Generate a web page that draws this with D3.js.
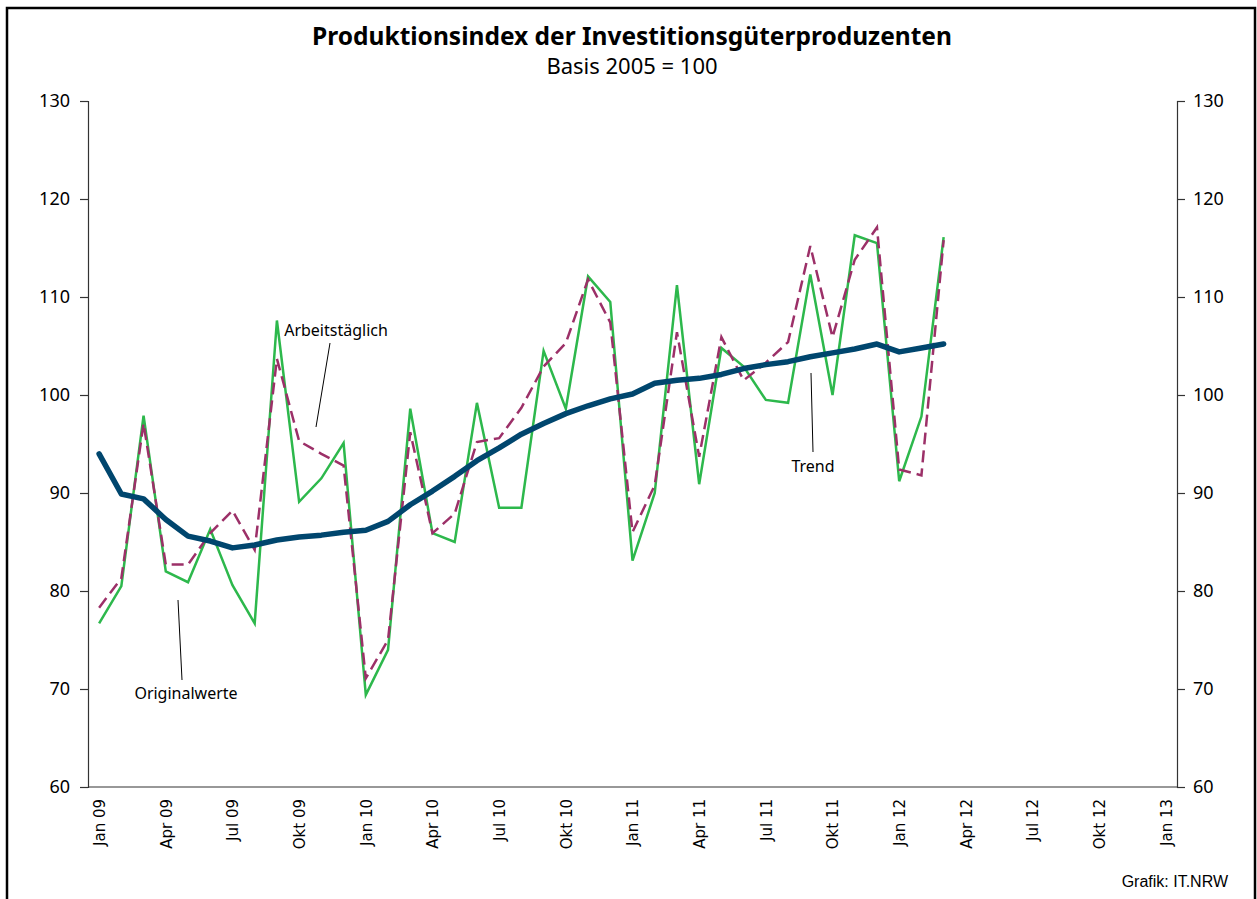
<!DOCTYPE html>
<html>
<head>
<meta charset="utf-8">
<script src="https://cdn.jsdelivr.net/npm/d3@7"></script>
<style>
  body { margin: 0; background: #fff; }
  text { font-family: "Noto Sans", "Open Sans", sans-serif; }
</style>
</head>
<body>
<script>
// month categories Jan 09 .. Jan 13
const monthNames = ["Jan", "Feb", "Mär", "Apr", "Mai", "Jun", "Jul", "Aug", "Sep", "Okt", "Nov", "Dez"];
const years = ["09", "10", "11", "12", "13"];
const months = [];
years.forEach(y => monthNames.forEach(m => months.push(m + " " + y)));
months.splice(49); // stop at Jan 13

const tickLabels = ["Jan 09", "Apr 09", "Jul 09", "Okt 09", "Jan 10", "Apr 10", "Jul 10", "Okt 10",
  "Jan 11", "Apr 11", "Jul 11", "Okt 11", "Jan 12", "Apr 12", "Jul 12", "Okt 12", "Jan 13"];
const yTicks = [60, 70, 80, 90, 100, 110, 120, 130];

// Originalwerte
const original = [76.7, 80.5, 97.9, 82.0, 80.9, 86.3, 80.6, 76.7, 107.6, 89.1, 91.5, 95.1,
  69.4, 74.0, 98.6, 85.9, 85.0, 99.2, 88.5, 88.5, 104.5, 98.6, 112.1, 109.5,
  83.1, 90.0, 111.2, 90.9, 104.8, 102.9, 99.5, 99.2, 112.3, 100.0, 116.3, 115.5,
  91.2, 97.8, 116.1];
// Arbeitstäglich
const workday = [78.3, 81.3, 97.1, 82.7, 82.7, 85.9, 88.2, 84.2, 103.7, 95.3, 94.0, 92.8,
  71.1, 75.0, 96.2, 85.9, 87.9, 95.2, 95.6, 98.7, 102.9, 105.3, 111.8, 107.4,
  86.0, 90.8, 106.4, 93.7, 105.9, 101.5, 103.3, 105.4, 115.2, 105.9, 113.8, 117.1,
  92.4, 91.8, 115.8];
// Trend
const trend = [94.0, 89.9, 89.4, 87.3, 85.6, 85.1, 84.4, 84.7, 85.2, 85.5, 85.7, 86.0,
  86.2, 87.1, 88.8, 90.2, 91.7, 93.3, 94.6, 96.0, 97.1, 98.1, 98.9, 99.6,
  100.1, 101.2, 101.5, 101.7, 102.1, 102.7, 103.1, 103.4, 103.9, 104.3, 104.7, 105.2,
  104.4, 104.8, 105.2];

const width = 1257, height = 899;
const plotLeft = 88, plotRight = 1177, plotTop = 101, plotBottom = 787;

const svg = d3.select("body").append("svg").attr("width", width).attr("height", height);

// frame
svg.append("rect").attr("x", 7).attr("y", 8).attr("width", 1248).attr("height", 920)
  .attr("fill", "none").attr("stroke", "#000").attr("stroke-width", 2.5);

// titles
svg.append("text").attr("x", 632).attr("y", 45).attr("text-anchor", "middle")
  .style("font-size", "24.5px").style("font-weight", "bold").text("Produktionsindex der Investitionsgüterproduzenten");
svg.append("text").attr("x", 632).attr("y", 74).attr("text-anchor", "middle")
  .style("font-size", "22px").text("Basis 2005 = 100");

const x = d3.scalePoint().domain(months).range([plotLeft, plotRight]).padding(0.5);
const y = d3.scaleLinear().domain([60, 130]).range([plotBottom, plotTop]);

// y axes
const yLeft = svg.append("g").attr("transform", `translate(${plotLeft},0)`)
  .call(d3.axisLeft(y).tickValues(yTicks).tickSize(8).tickPadding(10));
const yRight = svg.append("g").attr("transform", `translate(${plotRight},0)`)
  .call(d3.axisRight(y).tickValues(yTicks).tickSize(8).tickPadding(8));
[yLeft, yRight].forEach(g => {
  g.select(".domain").attr("stroke", "#333").attr("stroke-width", 1.2);
  g.selectAll(".tick line").attr("stroke", "#333").attr("stroke-width", 1.2);
  g.selectAll(".tick text").style("font-size", "18px").attr("fill", "#000")
    .style("font-family", "'Noto Sans', sans-serif");
});

// x axis
const xAxis = svg.append("g").attr("transform", `translate(0,${plotBottom})`)
  .call(d3.axisBottom(x).tickValues(tickLabels).tickSize(0).tickPadding(0));
xAxis.select(".domain").attr("d", `M${plotLeft},0H${plotRight}`).attr("stroke", "#333").attr("stroke-width", 1.2);
xAxis.selectAll(".tick text")
  .attr("transform", "rotate(-90)")
  .attr("x", -12).attr("y", 0).attr("dy", "0.35em")
  .attr("text-anchor", "end")
  .style("font-size", "15px").style("font-family", "'DejaVu Sans', sans-serif").attr("fill", "#000");

// lines
const line = arr => d3.line().x((d, i) => x(months[i])).y(d => y(d))(arr);

svg.append("path").attr("d", line(original)).attr("fill", "none")
  .attr("stroke", "#2db84c").attr("stroke-width", 2.5).attr("stroke-linejoin", "miter");
svg.append("path").attr("d", line(workday)).attr("fill", "none")
  .attr("stroke", "#9c3068").attr("stroke-width", 2.5).attr("stroke-dasharray", "12,6");
svg.append("path").attr("d", line(trend)).attr("fill", "none")
  .attr("stroke", "#00466e").attr("stroke-width", 5.5).attr("stroke-linejoin", "round").attr("stroke-linecap", "round");

// annotations with leader lines
const notes = [
  { text: "Arbeitstäglich", tx: 336, ty: 336, x1: 330, y1: 343, x2: 316, y2: 427 },
  { text: "Originalwerte", tx: 186, ty: 699, x1: 178, y1: 600, x2: 182, y2: 680 },
  { text: "Trend", tx: 813, ty: 472, x1: 811, y1: 373, x2: 813, y2: 452 }
];
notes.forEach(n => {
  svg.append("line").attr("x1", n.x1).attr("y1", n.y1).attr("x2", n.x2).attr("y2", n.y2)
    .attr("stroke", "#000").attr("stroke-width", 1);
  svg.append("text").attr("x", n.tx).attr("y", n.ty).attr("text-anchor", "middle")
    .style("font-size", "16px").text(n.text);
});

svg.append("text").attr("x", 1228).attr("y", 887).attr("text-anchor", "end")
  .style("font-size", "16px").style("font-family", "'Liberation Sans', Arial, sans-serif").text("Grafik: IT.NRW");
</script>
</body>
</html>
